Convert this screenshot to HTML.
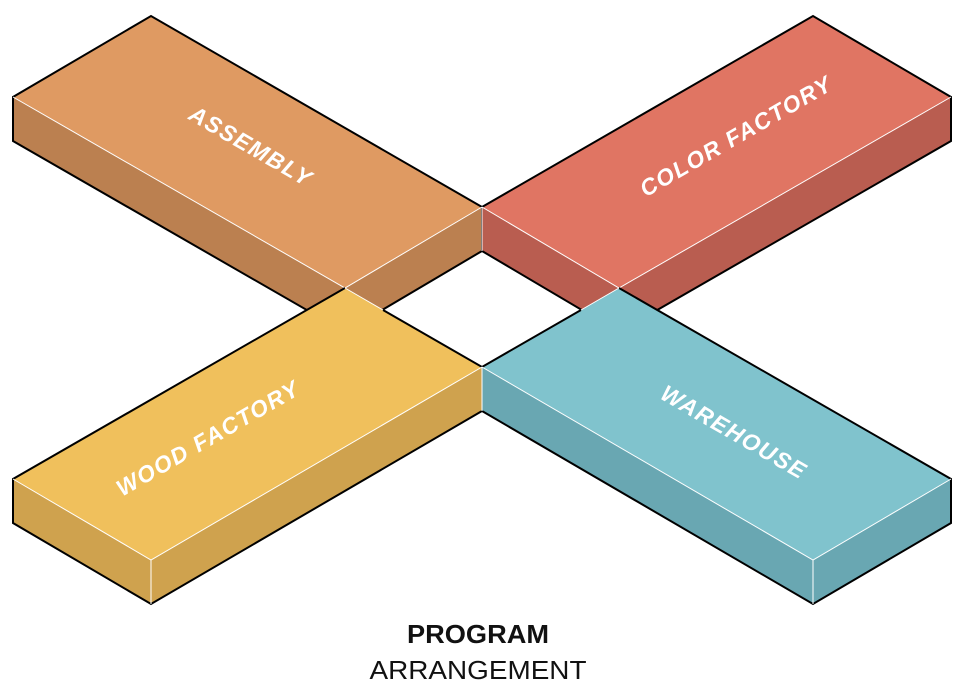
<!DOCTYPE html>
<html><head><style>html,body{margin:0;padding:0;background:#fff}svg{display:block}</style></head>
<body>
<svg width="960" height="692" viewBox="0 0 960 692" xmlns="http://www.w3.org/2000/svg">
<g stroke-linejoin="miter">
<!-- Assembly -->
<polygon points="13,97 345,288 345,332 13,141" fill="#bb8050"/>
<polygon points="345,288 482,207 482,251 345,332" fill="#bb8050"/>
<polygon points="151,16 13,97 345,288 482,207" fill="#df9a62"/>
<polyline points="482,207 151,16 13,97 13,141 345,332 482,251 482,207" fill="none" stroke="#000" stroke-width="2"/>
<g stroke="#fff" stroke-width="1" fill="none">
<polyline points="13,97 345,288 482,207"/><line x1="345" y1="288" x2="345" y2="332"/><line x1="482" y1="207" x2="482" y2="251"/>
</g>
<!-- Color -->
<polygon points="482,207 619,288 619,332 482,251" fill="#b95d50"/>
<polygon points="619,288 951,97 951,141 619,332" fill="#b95d50"/>
<polygon points="813,16 951,97 619,288 482,207" fill="#e07563"/>
<polyline points="482,207 813,16 951,97 951,141 619,332 482,251" fill="none" stroke="#000" stroke-width="2"/>
<g stroke="#fff" stroke-width="1" fill="none">
<polyline points="482,207 619,288 951,97"/><line x1="619" y1="288" x2="619" y2="332"/><line x1="482" y1="207" x2="482" y2="251"/>
</g>
<!-- Wood -->
<polygon points="13,479 151,560 151,604 13,523" fill="#cfa24e"/>
<polygon points="151,560 482,367 482,411 151,604" fill="#cfa24e"/>
<polygon points="345,288 13,479 151,560 482,367" fill="#f0c05c"/>
<polyline points="345,288 13,479 13,523 151,604 482,411" fill="none" stroke="#000" stroke-width="2"/>
<!-- Warehouse -->
<polygon points="482,367 813,560 813,604 482,411" fill="#69a7b2"/>
<polygon points="813,560 951,479 951,523 813,604" fill="#69a7b2"/>
<polygon points="619,288 951,479 813,560 482,367" fill="#80c3cd"/>
<polyline points="619,288 951,479 951,523 813,604 482,411" fill="none" stroke="#000" stroke-width="2"/>
<polyline points="383,310 482,367 581,310" fill="none" stroke="#000" stroke-width="2"/>
<g stroke="#fff" stroke-width="1" fill="none">
<polyline points="13,479 151,560 482,367"/><line x1="151" y1="560" x2="151" y2="604"/><line x1="482" y1="367" x2="482" y2="411"/>
<polyline points="482,367 813,560 951,479"/><line x1="813" y1="560" x2="813" y2="604"/>
<line x1="345" y1="288" x2="383" y2="310"/><line x1="619" y1="288" x2="581" y2="310"/>
</g>
</g>
<g font-family="'Liberation Sans',sans-serif" font-weight="bold" font-style="italic" font-size="23" fill="#fff" text-anchor="middle" letter-spacing="1.5">
<text transform="translate(247,153) rotate(30)">ASSEMBLY</text>
<text transform="translate(740,143) rotate(-30)">COLOR FACTORY</text>
<text transform="translate(212,445) rotate(-30)">WOOD FACTORY</text>
<text transform="translate(730,439) rotate(30)">WAREHOUSE</text>
</g>
<text x="478" y="643" font-family="'Liberation Sans',sans-serif" font-weight="bold" font-size="26" text-anchor="middle" textLength="142" lengthAdjust="spacingAndGlyphs" fill="#111">PROGRAM</text>
<text x="478" y="679" font-family="'Liberation Sans',sans-serif" font-size="26" text-anchor="middle" textLength="217" lengthAdjust="spacingAndGlyphs" fill="#111">ARRANGEMENT</text>
</svg>
</body></html>
